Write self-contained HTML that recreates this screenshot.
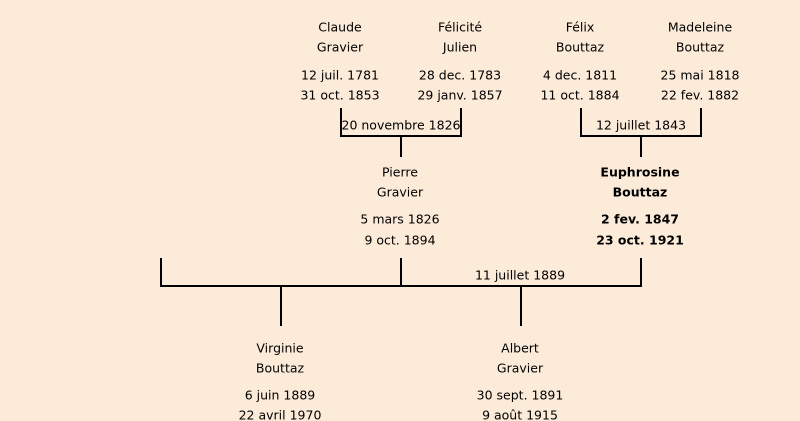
<!DOCTYPE html>
<html><head><meta charset="utf-8"><style>
html,body{margin:0;padding:0;background:#fcebd9;}
svg{display:block}
text{font-family:"Comic Sans MS","DejaVu Sans","Liberation Sans",sans-serif;font-size:12.5px;fill:#000;text-anchor:middle;dominant-baseline:central}
.b{font-weight:bold}
</style></head><body>
<svg width="800" height="421" viewBox="0 0 800 421">
<rect width="800" height="421" fill="#fcebd9"/>
<g stroke="#000" stroke-width="2" fill="none">
<path d="M341 108V136H461V108M401 136V157"/>
<path d="M581 108V136H701V108M641 136V157"/>
<path d="M161 258V286H641V258M401 258V286M281 286V326M521 286V326"/>
</g>
<text x="340" y="27">Claude</text><text x="340" y="47">Gravier</text>
<text x="340" y="75">12 juil. 1781</text><text x="340" y="95">31 oct. 1853</text>
<text x="460" y="27">Félicité</text><text x="460" y="47">Julien</text>
<text x="460" y="75">28 dec. 1783</text><text x="460" y="95">29 janv. 1857</text>
<text x="580" y="27">Félix</text><text x="580" y="47">Bouttaz</text>
<text x="580" y="75">4 dec. 1811</text><text x="580" y="95">11 oct. 1884</text>
<text x="700" y="27">Madeleine</text><text x="700" y="47">Bouttaz</text>
<text x="700" y="75">25 mai 1818</text><text x="700" y="95">22 fev. 1882</text>
<text x="401" y="125">20 novembre 1826</text>
<text x="641" y="125">12 juillet 1843</text>
<text x="400" y="172">Pierre</text><text x="400" y="192">Gravier</text>
<text x="400" y="219">5 mars 1826</text><text x="400" y="240">9 oct. 1894</text>
<text class="b" x="640" y="172">Euphrosine</text><text class="b" x="640" y="192">Bouttaz</text>
<text class="b" x="640" y="219">2 fev. 1847</text><text class="b" x="640" y="240">23 oct. 1921</text>
<text x="520" y="275">11 juillet 1889</text>
<text x="280" y="348">Virginie</text><text x="280" y="368">Bouttaz</text>
<text x="280" y="395">6 juin 1889</text><text x="280" y="415">22 avril 1970</text>
<text x="520" y="348">Albert</text><text x="520" y="368">Gravier</text>
<text x="520" y="395">30 sept. 1891</text><text x="520" y="415">9 août 1915</text>
</svg>
</body></html>
